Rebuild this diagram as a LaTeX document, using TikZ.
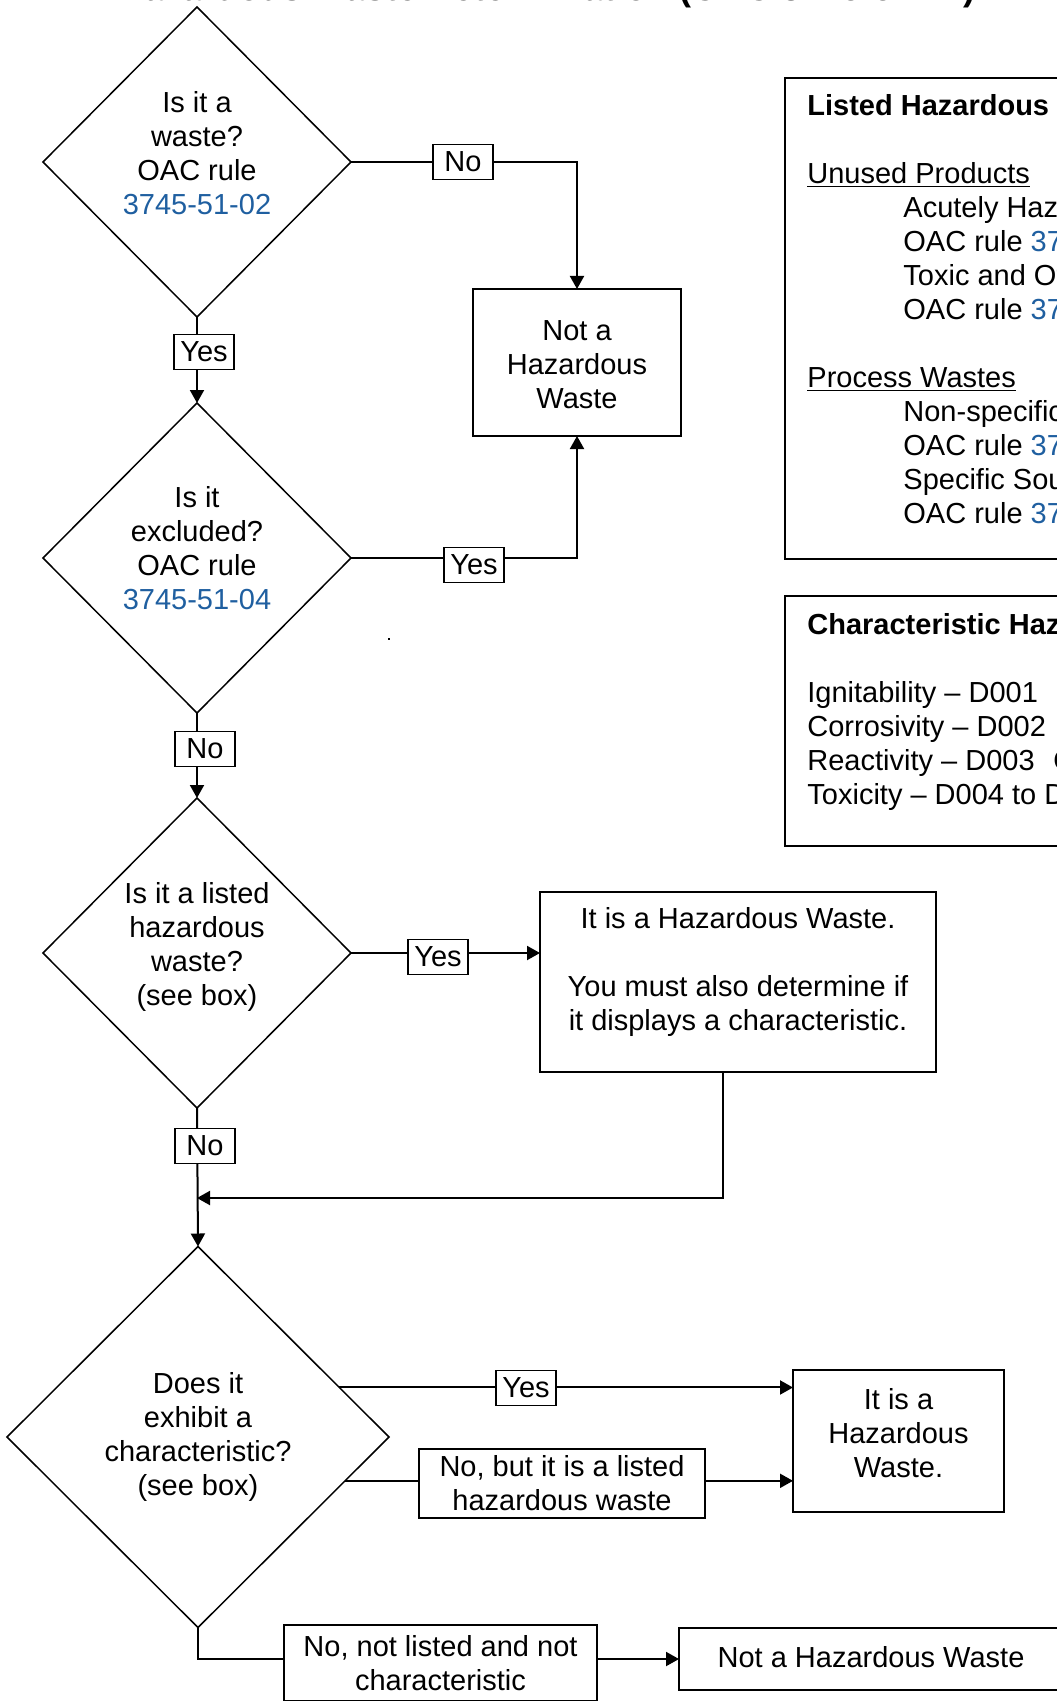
\documentclass[tikz,border=0pt]{standalone}
\usepackage{fontspec}
\setmainfont{Liberation Sans}
\usetikzlibrary{shapes.geometric,arrows.meta,calc}
\definecolor{ruleblue}{HTML}{1F5FA0}
\begin{document}
\begin{tikzpicture}[x=0.5pt,y=-0.5pt,
  font=\fontsize{14.5pt}{17pt}\selectfont,
  dec/.style={diamond,draw,line width=0.75pt,inner sep=0pt,outer sep=0pt,minimum width=154pt,minimum height=155pt},
  qtext/.style={align=center,inner sep=0pt},
  box/.style={draw,line width=1pt,inner sep=0pt,outer sep=0pt,align=center},
  lbl/.style={draw,fill=white,line width=0.8pt,inner sep=1pt,minimum width=30pt,minimum height=17.5pt},
  conn/.style={line width=1pt},
  arr/.style={conn,-{Triangle[length=6.5pt,width=7pt]}},
  titlestyle/.style={anchor=base west,inner sep=0pt,font=\fontsize{18pt}{21pt}\selectfont\bfseries}]
\useasboundingbox (0,0) rectangle (1056,1701);

% cut-off title
\node[titlestyle] (title) at (118,1) {Hazardous Waste Determination (OAC 3745-52-11)};

% decisions
\node[dec] (d1) at (197,162) {};
\node[qtext] (d1t) at (197,153) {Is it a\\waste?\\OAC rule\\\textcolor{ruleblue}{3745-51-02}};
\node[dec] (d2) at (197,558) {};
\node[qtext] (d2t) at (197,548) {Is it\\excluded?\\OAC rule\\\textcolor{ruleblue}{3745-51-04}};
\node[dec] (d3) at (197,953) {};
\node[qtext] (d3t) at (197,947) {Is it a listed\\hazardous\\waste?\\(see box)};
\node[dec,minimum width=191pt,minimum height=190.5pt] (d4) at (198,1437) {};
\node[qtext] (d4t) at (198,1437) {Does it\\exhibit a\\characteristic?\\(see box)};

% result boxes
\node[box,minimum width=104pt,minimum height=73.5pt] (nhw) at (577,362.5) {};
\node[qtext] (nhwt) at (577,364.5) {Not a\\Hazardous\\Waste};
\node[box,minimum width=198pt,minimum height=90pt] (hw1) at (738,982) {};
\node[qtext] (hw1t) at (738,972) {It is a Hazardous Waste.\\[17pt]You must also determine if\\it displays a characteristic.};
\node[box,minimum width=105.5pt,minimum height=71pt] (hw2) at (898.5,1441) {};
\node[qtext] (hw2t) at (898.5,1433) {It is a\\Hazardous\\Waste.};
\node[box,minimum width=192pt,minimum height=31pt] (nhw2) at (871,1659) {};
\node[qtext] (nhw2t) at (871,1657) {Not a Hazardous Waste};

% connectors
\draw[arr] (d1.south) -- (d2.north);
\node[lbl] (l1) at (204,352) {Yes};
\draw[arr] (d2.south) -- (d3.north);
\node[lbl] (l2) at (205,749) {No};
\coordinate (j) at (197,1198);
\draw[arr] (d3.south) -- (d4.north);
\node[lbl] (l3) at (205,1146) {No};
\draw[arr] (d1.east) -| (nhw.north);
\node[lbl] (l4) at (463,162) {No};
\draw[arr] (d2.east) -| (nhw.south);
\node[lbl] (l5) at (474,565) {Yes};
\draw[arr] (d3.east) -- (d3.east -| hw1.west);
\node[lbl] (l6) at (438,957) {Yes};
\draw[arr] ([xshift=-7.5pt]hw1.south) |- (j);

\coordinate (p1) at ($(d4.east)!0.26!(d4.north)$);
\coordinate (p2) at ($(d4.east)!0.23!(d4.south)$);
\draw[arr] (p1) -- (p1 -| hw2.west);
\node[lbl] (l7) at (526,1388) {Yes};
\draw[arr] (p2) -- (p2 -| hw2.west);
\node[box,fill=white,minimum width=143pt,minimum height=34.5pt] (l8) at (562,1483.5) {No, but it is a listed\\hazardous waste};
\draw[arr] (d4.south) |- (nhw2.west);
\node[box,fill=white,minimum width=156.5pt,minimum height=38pt] (l9) at (440.5,1663) {No, not listed and not\\characteristic};

% info boxes
\node[box,anchor=north west,minimum width=157.5pt,minimum height=240.5pt] (lst) at (785,78) {};
\node[anchor=north west,align=left,inner sep=0pt] (lstt) at (807,94)
 {\textbf{Listed Hazardous Wastes}\\[17pt]
  \underline{Unused Products}\\
  \hspace*{48pt}Acutely Hazardous Wastes (P-list)\\
  \hspace*{48pt}OAC rule \textcolor{ruleblue}{3745-51-33}\\
  \hspace*{48pt}Toxic and Other Wastes (U-list)\\
  \hspace*{48pt}OAC rule \textcolor{ruleblue}{3745-51-33}\\[17pt]
  \underline{Process Wastes}\\
  \hspace*{48pt}Non-specific Sources (F-list)\\
  \hspace*{48pt}OAC rule \textcolor{ruleblue}{3745-51-31}\\
  \hspace*{48pt}Specific Sources (K-list)\\
  \hspace*{48pt}OAC rule \textcolor{ruleblue}{3745-51-32}};

\node[box,anchor=north west,minimum width=157.5pt,minimum height=125pt] (chr) at (785,596) {};
\node[anchor=north west,align=left,inner sep=0pt] (chrt) at (807,613)
 {\textbf{Characteristic Hazardous Wastes}\\[17pt]
  \makebox[140pt][l]{Ignitability – D001}OAC rule \textcolor{ruleblue}{3745-51-21}\\
  \makebox[140pt][l]{Corrosivity – D002}OAC rule \textcolor{ruleblue}{3745-51-22}\\
  \makebox[123pt][l]{Reactivity – D003}OAC rule \textcolor{ruleblue}{3745-51-23}\\
  Toxicity – D004 to D043\quad OAC rule \textcolor{ruleblue}{3745-51-24}};

% stray dot
\fill (388,638) rectangle (390,640);
\end{tikzpicture}
\end{document}
